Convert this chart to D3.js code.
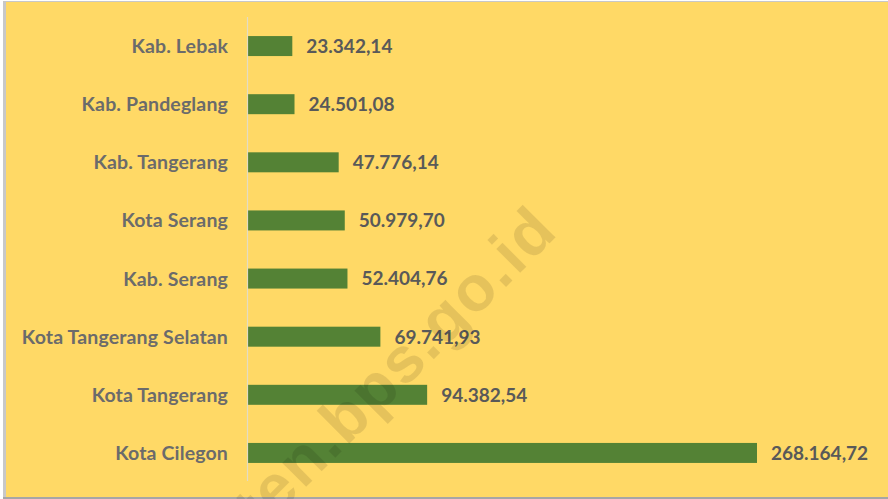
<!DOCTYPE html>
<html>
<head>
<meta charset="utf-8">
<script src="https://cdn.jsdelivr.net/npm/d3@7"></script>
<style>
  html, body { margin: 0; padding: 0; background: #ffffff; }
  svg { display: block; }
</style>
</head>
<body>
<div id="chart"></div>
<script>
// data (top to bottom)
var regions = ["Kab. Lebak", "Kab. Pandeglang", "Kab. Tangerang", "Kota Serang", "Kab. Serang",
               "Kota Tangerang Selatan", "Kota Tangerang", "Kota Cilegon"];
var values = [23342.14, 24501.08, 47776.14, 50979.70, 52404.76, 69741.93, 94382.54, 268164.72];
var valueLabels = ["23.342,14", "24.501,08", "47.776,14", "50.979,70", "52.404,76",
                   "69.741,93", "94.382,54", "268.164,72"];
var watermark = "banten.bps.go.id";

var width = 888, height = 499;
var rows = regions.map(function (d, i) { return { name: d, value: values[i], label: valueLabels[i] }; });

var svg = d3.select("#chart").append("svg")
    .attr("width", width)
    .attr("height", height);

// grey shadow edge then yellow panel
svg.append("rect").attr("x", 3).attr("y", 1).attr("width", width - 3).attr("height", 498).attr("fill", "#c8c8c8");
svg.append("rect").attr("x", 3).attr("y", 497).attr("width", width - 3).attr("height", 2).attr("fill", "#a6a6a6");
svg.append("rect").attr("x", 6).attr("y", 2).attr("width", width - 6).attr("height", 495).attr("fill", "#ffd966");

var x = d3.scaleLinear()
    .domain([0, d3.max(values)])
    .range([248, 757]);

var y = d3.scaleBand()
    .domain(regions)
    .range([17, 482])
    .paddingInner(0.656)
    .paddingOuter(0.328);

// bars
svg.append("g").selectAll("rect")
    .data(rows)
    .enter()
    .append("rect")
    .attr("x", x(0))
    .attr("y", function (d) { return y(d.name); })
    .attr("width", function (d) { return x(d.value) - x(0); })
    .attr("height", y.bandwidth())
    .attr("fill", "#548235");

// category axis line
svg.append("line")
    .attr("x1", x(0) - 0.5).attr("x2", x(0) - 0.5)
    .attr("y1", 17).attr("y2", 481)
    .attr("stroke", "#e3dcc4")
    .attr("stroke-width", 1.2);

// category labels
svg.append("g").selectAll("text")
    .data(rows)
    .enter()
    .append("text")
    .attr("x", 228)
    .attr("y", function (d) { return y(d.name) + y.bandwidth() / 2; })
    .attr("dy", "0.36em")
    .attr("text-anchor", "end")
    .attr("font-family", "Lato, 'Open Sans', sans-serif")
    .attr("font-weight", "bold")
    .attr("font-size", 19.5)
    .attr("letter-spacing", 0.15)
    .attr("fill", "#6b6b6b")
    .text(function (d) { return d.name; });

// value labels
svg.append("g").selectAll("text")
    .data(rows)
    .enter()
    .append("text")
    .attr("x", function (d) { return x(d.value) + 14; })
    .attr("y", function (d) { return y(d.name) + y.bandwidth() / 2; })
    .attr("dy", "0.36em")
    .attr("font-family", "Lato, 'Open Sans', sans-serif")
    .attr("font-weight", "bold")
    .attr("font-size", 19)
    .attr("fill", "#595959")
    .text(function (d) { return d.label; });

// watermark
svg.append("text")
    .attr("transform", "translate(560,233) rotate(-45)")
    .attr("text-anchor", "end")
    .attr("font-family", "'Liberation Sans', Arial, sans-serif")
    .attr("font-weight", "bold")
    .attr("font-size", 64)
    .attr("letter-spacing", 2)
    .attr("fill", "#000000")
    .attr("fill-opacity", 0.1)
    .text(watermark);
</script>
</body>
</html>
